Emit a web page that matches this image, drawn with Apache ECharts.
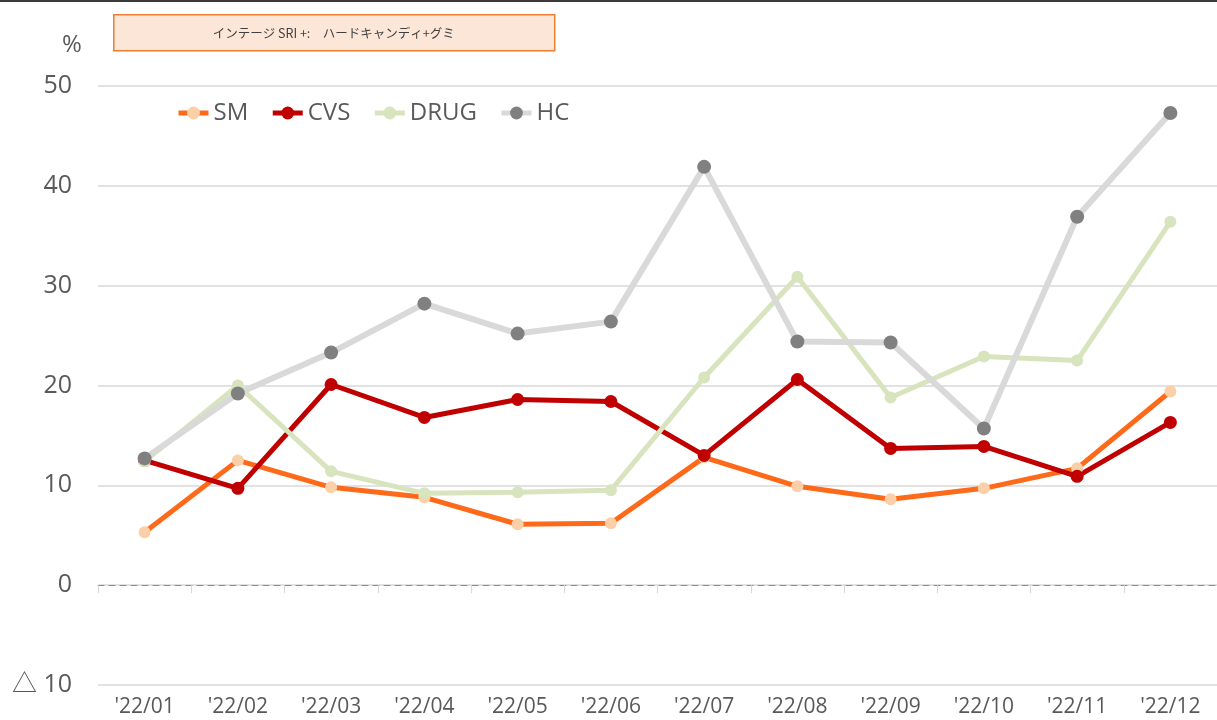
<!DOCTYPE html>
<html>
<head>
<meta charset="utf-8">
<style>
  html, body { margin: 0; padding: 0; background: #fff; }
  #chart { width: 1217px; height: 720px; }
</style>
<script src="https://cdn.jsdelivr.net/npm/echarts@6/dist/echarts.min.js"></script>
</head>
<body>
<div id="chart"></div>
<script>
// ===== データ =====
const months = ["'22/01", "'22/02", "'22/03", "'22/04", "'22/05", "'22/06",
  "'22/07", "'22/08", "'22/09", "'22/10", "'22/11", "'22/12"];
const smValues = [5.3, 12.5, 9.8, 8.8, 6.1, 6.2, 12.8, 9.9, 8.6, 9.7, 11.7, 19.4];
const cvsValues = [12.5, 9.7, 20.1, 16.8, 18.6, 18.4, 13.0, 20.6, 13.7, 13.9, 10.9, 16.3];
const drugValues = [12.4, 20.0, 11.4, 9.2, 9.3, 9.5, 20.8, 30.9, 18.8, 22.9, 22.5, 36.4];
const hcValues = [12.7, 19.2, 23.3, 28.2, 25.2, 26.4, 41.9, 24.4, 24.3, 15.7, 36.9, 47.3];
const titleText = 'インテージ SRI +:　ハードキャンディ+グミ';

// ===== 色 =====
const COLORS = {
  text: '#595959',
  grid: '#d9d9d9',
  zero: '#8c8c8c',
  sm: '#FF6A1A', smMark: '#FBCFA8',
  cvs: '#C00000',
  drug: '#D7E4BD',
  hc: '#D9D9D9', hcMark: '#808080',
};
const FONT = '"Open Sans", "Noto Sans", "Noto Sans CJK JP", sans-serif';

const lineSeries = (name, data, lineColor, markColor, width, size) => ({
  name,
  type: 'line',
  data,
  symbol: 'circle',
  symbolSize: size,
  xAxisIndex: 0,
  lineStyle: { color: lineColor, width },
  itemStyle: { color: markColor, borderWidth: 0 },
  emphasis: { disabled: true },
  animation: false,
});

const chart = echarts.init(document.getElementById('chart'), null, { renderer: 'canvas' });

chart.setOption({
  backgroundColor: '#fff',
  textStyle: { fontFamily: FONT },
  grid: { left: 98, right: 0, top: 86, bottom: 35, containLabel: false },
  legend: {
    left: 171,
    top: 96,
    itemWidth: 30,
    itemHeight: 16,
    itemGap: 22,
    lineStyle: { width: 5 },
    textStyle: { color: COLORS.text, fontSize: 24, fontFamily: FONT },
    data: ['SM', 'CVS', 'DRUG', 'HC'],
  },
  xAxis: [
    {
      // 目盛ラベル（下端）
      type: 'category',
      data: months,
      position: 'bottom',
      axisLine: { show: false, onZero: false },
      axisTick: { show: false },
      axisLabel: { color: COLORS.text, fontSize: 21, margin: 12, fontFamily: FONT },
    },
    {
      // ゼロ線（破線）と目盛
      type: 'category',
      data: months,
      position: 'bottom',
      axisLine: { onZero: true, lineStyle: { color: COLORS.zero, type: [6, 5], width: 1 } },
      axisTick: { show: true, length: 8, lineStyle: { color: COLORS.grid } },
      axisLabel: { show: false },
    },
  ],
  yAxis: {
    type: 'value',
    min: -10,
    max: 50,
    interval: 10,
    axisLine: { show: false },
    axisTick: { show: false },
    axisLabel: {
      color: COLORS.text,
      fontSize: 25,
      margin: 26,
      fontFamily: FONT,
      formatter: (v) => (v < 0 ? '△ ' + Math.abs(v) : String(v)),
    },
    splitLine: {
      lineStyle: { color: COLORS.grid, width: 1.5 },
    },
  },
  graphic: [
    { type: 'rect', left: 0, top: 0, shape: { width: 1217, height: 2 }, style: { fill: '#3a3a3a' } },
    {
      type: 'group',
      left: 113,
      top: 14,
      children: [
        {
          type: 'rect',
          shape: { x: 0, y: 0, width: 441, height: 36 },
          style: { fill: '#FCE6D7', stroke: '#ED7D31', lineWidth: 1.5 },
        },
        {
          type: 'text',
          x: 220,
          y: 18,
          style: {
            text: titleText,
            fill: '#404040',
            font: '12.5px "Noto Sans CJK JP", sans-serif',
            align: 'center',
            verticalAlign: 'middle',
          },
        },
      ],
    },
    {
      type: 'text',
      left: 62,
      top: 33,
      style: { text: '%', fill: COLORS.text, font: '24px ' + FONT },
    },
  ],
  series: [
    lineSeries('SM', smValues, COLORS.sm, COLORS.smMark, 5, 12),
    lineSeries('CVS', cvsValues, COLORS.cvs, COLORS.cvs, 5, 13),
    lineSeries('DRUG', drugValues, COLORS.drug, COLORS.drug, 5, 12),
    lineSeries('HC', hcValues, COLORS.hc, COLORS.hcMark, 6, 14),
  ],
});
</script>
</body>
</html>
